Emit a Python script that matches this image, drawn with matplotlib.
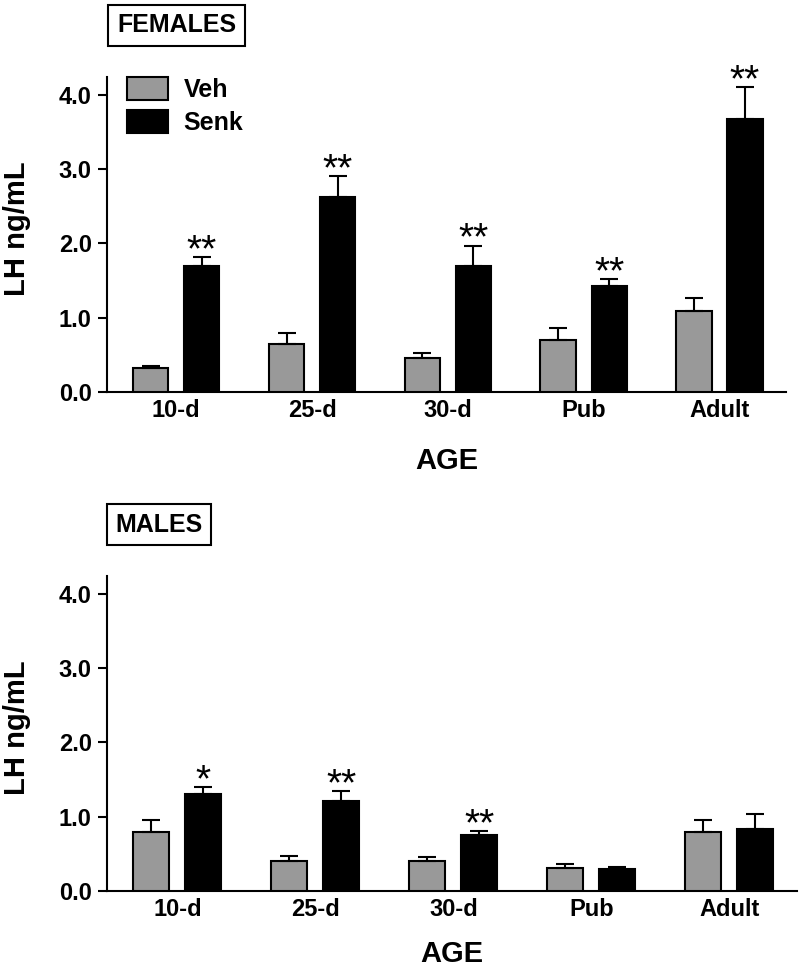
import numpy as np
import matplotlib
matplotlib.use('Agg')
import matplotlib.pyplot as plt

plt.rcParams['font.family'] = ['Liberation Sans', 'DejaVu Sans']
plt.rcParams['font.weight'] = 'bold'

ages = ['10-d', '25-d', '30-d', 'Pub', 'Adult']

# females, LH ng/mL (mean and upper SEM)
fem_veh = [0.32, 0.65, 0.46, 0.70, 1.09]
fem_veh_err = [0.03, 0.15, 0.07, 0.16, 0.17]
fem_senk = [1.70, 2.62, 1.69, 1.43, 3.68]
fem_senk_err = [0.12, 0.29, 0.28, 0.09, 0.42]
fem_stars = ['**', '**', '**', '**', '**']

# males
mal_veh = [0.80, 0.40, 0.40, 0.31, 0.79]
mal_veh_err = [0.15, 0.07, 0.06, 0.06, 0.17]
mal_senk = [1.30, 1.21, 0.76, 0.29, 0.84]
mal_senk_err = [0.10, 0.14, 0.05, 0.03, 0.19]
mal_stars = ['*', '**', '**', '', '']

GRAY = '#999999'
LW = 1.5

fig = plt.figure(figsize=(8, 9.74), dpi=100)
ax_f = fig.add_axes([0.13375, 0.59754, 0.84875, 0.3234])
ax_m = fig.add_axes([0.13375, 0.08522, 0.8625, 0.3234])


def draw_panel(ax, veh, veh_err, senk, senk_err, stars, label_x):
    x = np.arange(len(ages))
    off, w = 0.188, 0.26
    ekw = dict(elinewidth=LW, capthick=LW, ecolor='black')
    b1 = ax.bar(x - off, veh, w, color=GRAY, edgecolor='black', linewidth=LW,
                yerr=[np.zeros(len(veh)), veh_err], capsize=6.8,
                error_kw=ekw, label='Veh', zorder=3)
    b2 = ax.bar(x + off, senk, w, color='black', edgecolor='black', linewidth=LW,
                yerr=[np.zeros(len(senk)), senk_err], capsize=6.8,
                error_kw=ekw, label='Senk', zorder=3)
    for xi, v, e, s in zip(x, senk, senk_err, stars):
        if s:
            ax.annotate(s, (xi + off, v + e), xytext=(0, -3),
                        textcoords='offset points', ha='center', va='baseline',
                        fontsize=28, fontweight='normal')

    ax.set_xlim(-0.51, 4.49)
    ax.set_ylim(0, 4.24)
    ax.set_yticks([0, 1, 2, 3, 4])
    ax.set_yticklabels(['0.0', '1.0', '2.0', '3.0', '4.0'])
    ax.set_xticks(x)
    ax.set_xticklabels(ages)
    ax.tick_params(axis='x', length=0, pad=5, labelsize=17)
    ax.tick_params(axis='y', length=6.5, width=LW, pad=4.5, labelsize=17)
    for sp in ['top', 'right']:
        ax.spines[sp].set_visible(False)
    for sp in ['left', 'bottom']:
        ax.spines[sp].set_linewidth(LW)

    ax.text(label_x, 0.52, 'LH ng/mL', rotation=90, ha='center', va='center',
            fontsize=21, transform=ax.transAxes)
    return b1, b2


b1, b2 = draw_panel(ax_f, fem_veh, fem_veh_err, fem_senk, fem_senk_err,
                    fem_stars, -0.1325)
draw_panel(ax_m, mal_veh, mal_veh_err, mal_senk, mal_senk_err,
           mal_stars, -0.130)

ax_f.text(0.5, -0.219, 'AGE', ha='center', va='center', fontsize=21,
          transform=ax_f.transAxes)
ax_m.text(0.5, -0.200, 'AGE', ha='center', va='center', fontsize=21,
          transform=ax_m.transAxes)

box = dict(boxstyle='square,pad=0.35', facecolor='white', edgecolor='black',
           linewidth=LW)
fig.text(176.5 / 800, 1 - 25.5 / 974, 'FEMALES', ha='center', va='center',
         fontsize=18, bbox=box)
fig.text(159 / 800, 1 - 524.5 / 974, 'MALES', ha='center', va='center',
         fontsize=18, bbox=box)

ax_f.legend(handles=[b1, b2], loc='upper left',
            bbox_to_anchor=(115 / 800, 1 - 64 / 974),
            bbox_transform=fig.transFigure, frameon=False, fontsize=18,
            borderpad=0, handlelength=1.6, handleheight=1.04,
            handletextpad=0.64, labelspacing=0.35)

fig.savefig('out.png', dpi=100)
